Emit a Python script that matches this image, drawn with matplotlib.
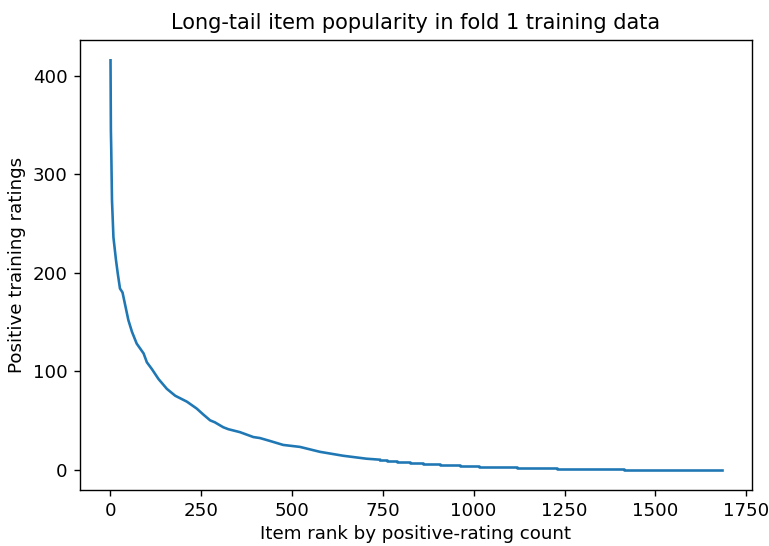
import matplotlib
matplotlib.use('Agg')
import matplotlib.pyplot as plt

# item rank -> positive training ratings
head_rank = [1, 2, 3, 5, 9, 16, 21, 27, 34, 50, 60, 73, 92, 101, 115, 133,
             156, 179, 211, 238, 256, 275, 288, 311, 325, 357, 394, 412, 440,
             476, 522, 577, 641, 705, 742]
head_count = [416, 345, 325, 274, 236, 213, 199, 184, 180, 152, 140, 128, 118,
              109, 102, 92, 82, 75, 69, 62, 56, 50, 48, 43, 41, 38, 33, 32, 29,
              25, 23, 18, 14, 11, 10]

# flat tail, one plateau per count value
tail_rank = [742, 761, 788, 824, 861, 907, 962, 1016, 1118, 1228, 1415, 1682]
tail_count = [10, 9, 8, 7, 6, 5, 4, 3, 2, 1, 0, 0]

plt.rcParams['font.size'] = 10.5

fig = plt.figure(figsize=(769 / 125, 546 / 125), dpi=125)
ax = fig.add_axes([0.104, 0.1026, 0.874, 0.8244])

ax.plot(head_rank, head_count, color='#1f77b4', linewidth=1.5)
ax.step(tail_rank, tail_count, where='post', color='#1f77b4', linewidth=1.5)

ax.set_xlabel('Item rank by positive-rating count', labelpad=3)
ax.set_ylabel('Positive training ratings')
ax.set_title('Long-tail item popularity in fold 1 training data', fontsize=12)

fig.savefig('out.png', dpi=125)
